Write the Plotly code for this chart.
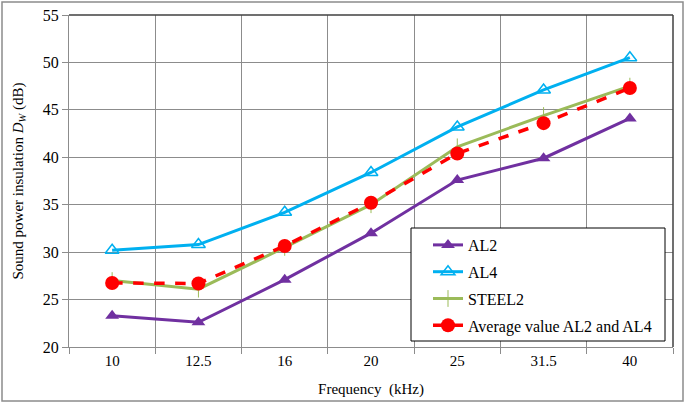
import plotly.graph_objects as go

freqs = ["10", "12.5", "16", "20", "25", "31.5", "40"]
al2 = [23.3, 22.6, 27.1, 32.0, 37.6, 39.9, 44.1]
al4 = [30.2, 30.8, 34.2, 38.4, 43.2, 47.1, 50.5]
steel2 = [27.0, 26.1, 30.5, 35.0, 41.1, 44.4, 47.5]
avg = [26.75, 26.7, 30.65, 35.2, 40.4, 43.6, 47.3]

FONT = "Liberation Serif, Times New Roman, serif"
W, H = 685, 403
L, R, T, B = 69, 12, 15, 56
pw, ph = W - L - R, H - T - B

def px(x):
    return (x - L) / pw

def py(y):
    return (H - B - y) / ph

fig = go.Figure()
fig.add_trace(go.Scatter(x=freqs, y=al2, name="AL2", mode="lines+markers", legendgroup="a",
                         line=dict(color="#7030A0", width=3),
                         marker=dict(symbol="triangle-up", size=12, color="#7030A0")))
fig.add_trace(go.Scatter(x=freqs, y=al4, name="AL4", mode="lines+markers", legendgroup="b",
                         line=dict(color="#00B0F0", width=3),
                         marker=dict(symbol="triangle-up-open", size=12, color="#00B0F0",
                                     line=dict(width=1.5, color="#00B0F0"))))
fig.add_trace(go.Scatter(x=freqs, y=steel2, name="STEEL2", mode="lines+markers", legendgroup="c",
                         line=dict(color="#9BBB59", width=3),
                         marker=dict(symbol="line-ns", size=12, color="#9BBB59",
                                     line=dict(width=1, color="#9BBB59"))))
fig.add_trace(go.Scatter(x=freqs, y=avg, name="Average value AL2 and AL4", mode="lines+markers", legendgroup="d",
                         line=dict(color="#FF0000", width=3.5, dash="dash"),
                         marker=dict(symbol="circle", size=14, color="#FF0000")))

fig.update_layout(
    width=W, height=H,
    margin=dict(l=L, r=R, t=T, b=B, autoexpand=False),
    paper_bgcolor="white", plot_bgcolor="white",
    font=dict(family=FONT, size=15, color="black"),
    xaxis=dict(type="category", range=[-0.5, 6.5], tickson="boundaries", ticks="outside",
               ticklen=6, tickcolor="#8c8c8c", showgrid=True, gridcolor="#8c8c8c", gridwidth=1,
               showline=True, linecolor="#8c8c8c", linewidth=1, automargin=False,
               tickfont=dict(family=FONT, size=15, color="black"),
               title=dict(text="Frequency  (kHz)", font=dict(family=FONT, size=15, color="black"))),
    yaxis=dict(range=[20, 55], dtick=5, ticks="outside", ticklen=6, tickcolor="#8c8c8c",
               showgrid=True, gridcolor="#8c8c8c", gridwidth=1, showline=True, linecolor="#8c8c8c",
               linewidth=1, zeroline=False, automargin=False,
               tickfont=dict(family=FONT, size=16, color="black"),
               title=dict(text="Sound power insulation <i>D<sub>W</sub></i> (dB)",
                          font=dict(family=FONT, size=15, color="black"))),
    legend=dict(x=px(428), y=py(228), xanchor="left", yanchor="top",
                borderwidth=0, bgcolor="rgba(0,0,0,0)",
                font=dict(family=FONT, size=16, color="black"), tracegroupgap=3, traceorder="grouped"),
    showlegend=True,
)

# legend box
fig.add_shape(type="rect", xref="paper", yref="paper", x0=px(411), x1=px(665), y0=py(341), y1=py(228),
              line=dict(color="black", width=1), fillcolor="white", layer="above")
# dark top/right plot border
fig.add_shape(type="line", xref="paper", yref="paper", x0=0, x1=1, y0=1, y1=1,
              line=dict(color="#404040", width=1.5))
fig.add_shape(type="line", xref="paper", yref="paper", x0=1, x1=1, y0=0, y1=1,
              line=dict(color="#404040", width=1.5))
# outer chart border
fig.add_shape(type="rect", xref="paper", yref="paper",
              x0=px(2), x1=px(683), y0=py(401), y1=py(2),
              line=dict(color="#8c8c8c", width=1.5), layer="below")

fig.write_html("out.html", config={"displayModeBar": False},
               post_script="document.body.style.margin='0';document.body.style.overflow='hidden';")
